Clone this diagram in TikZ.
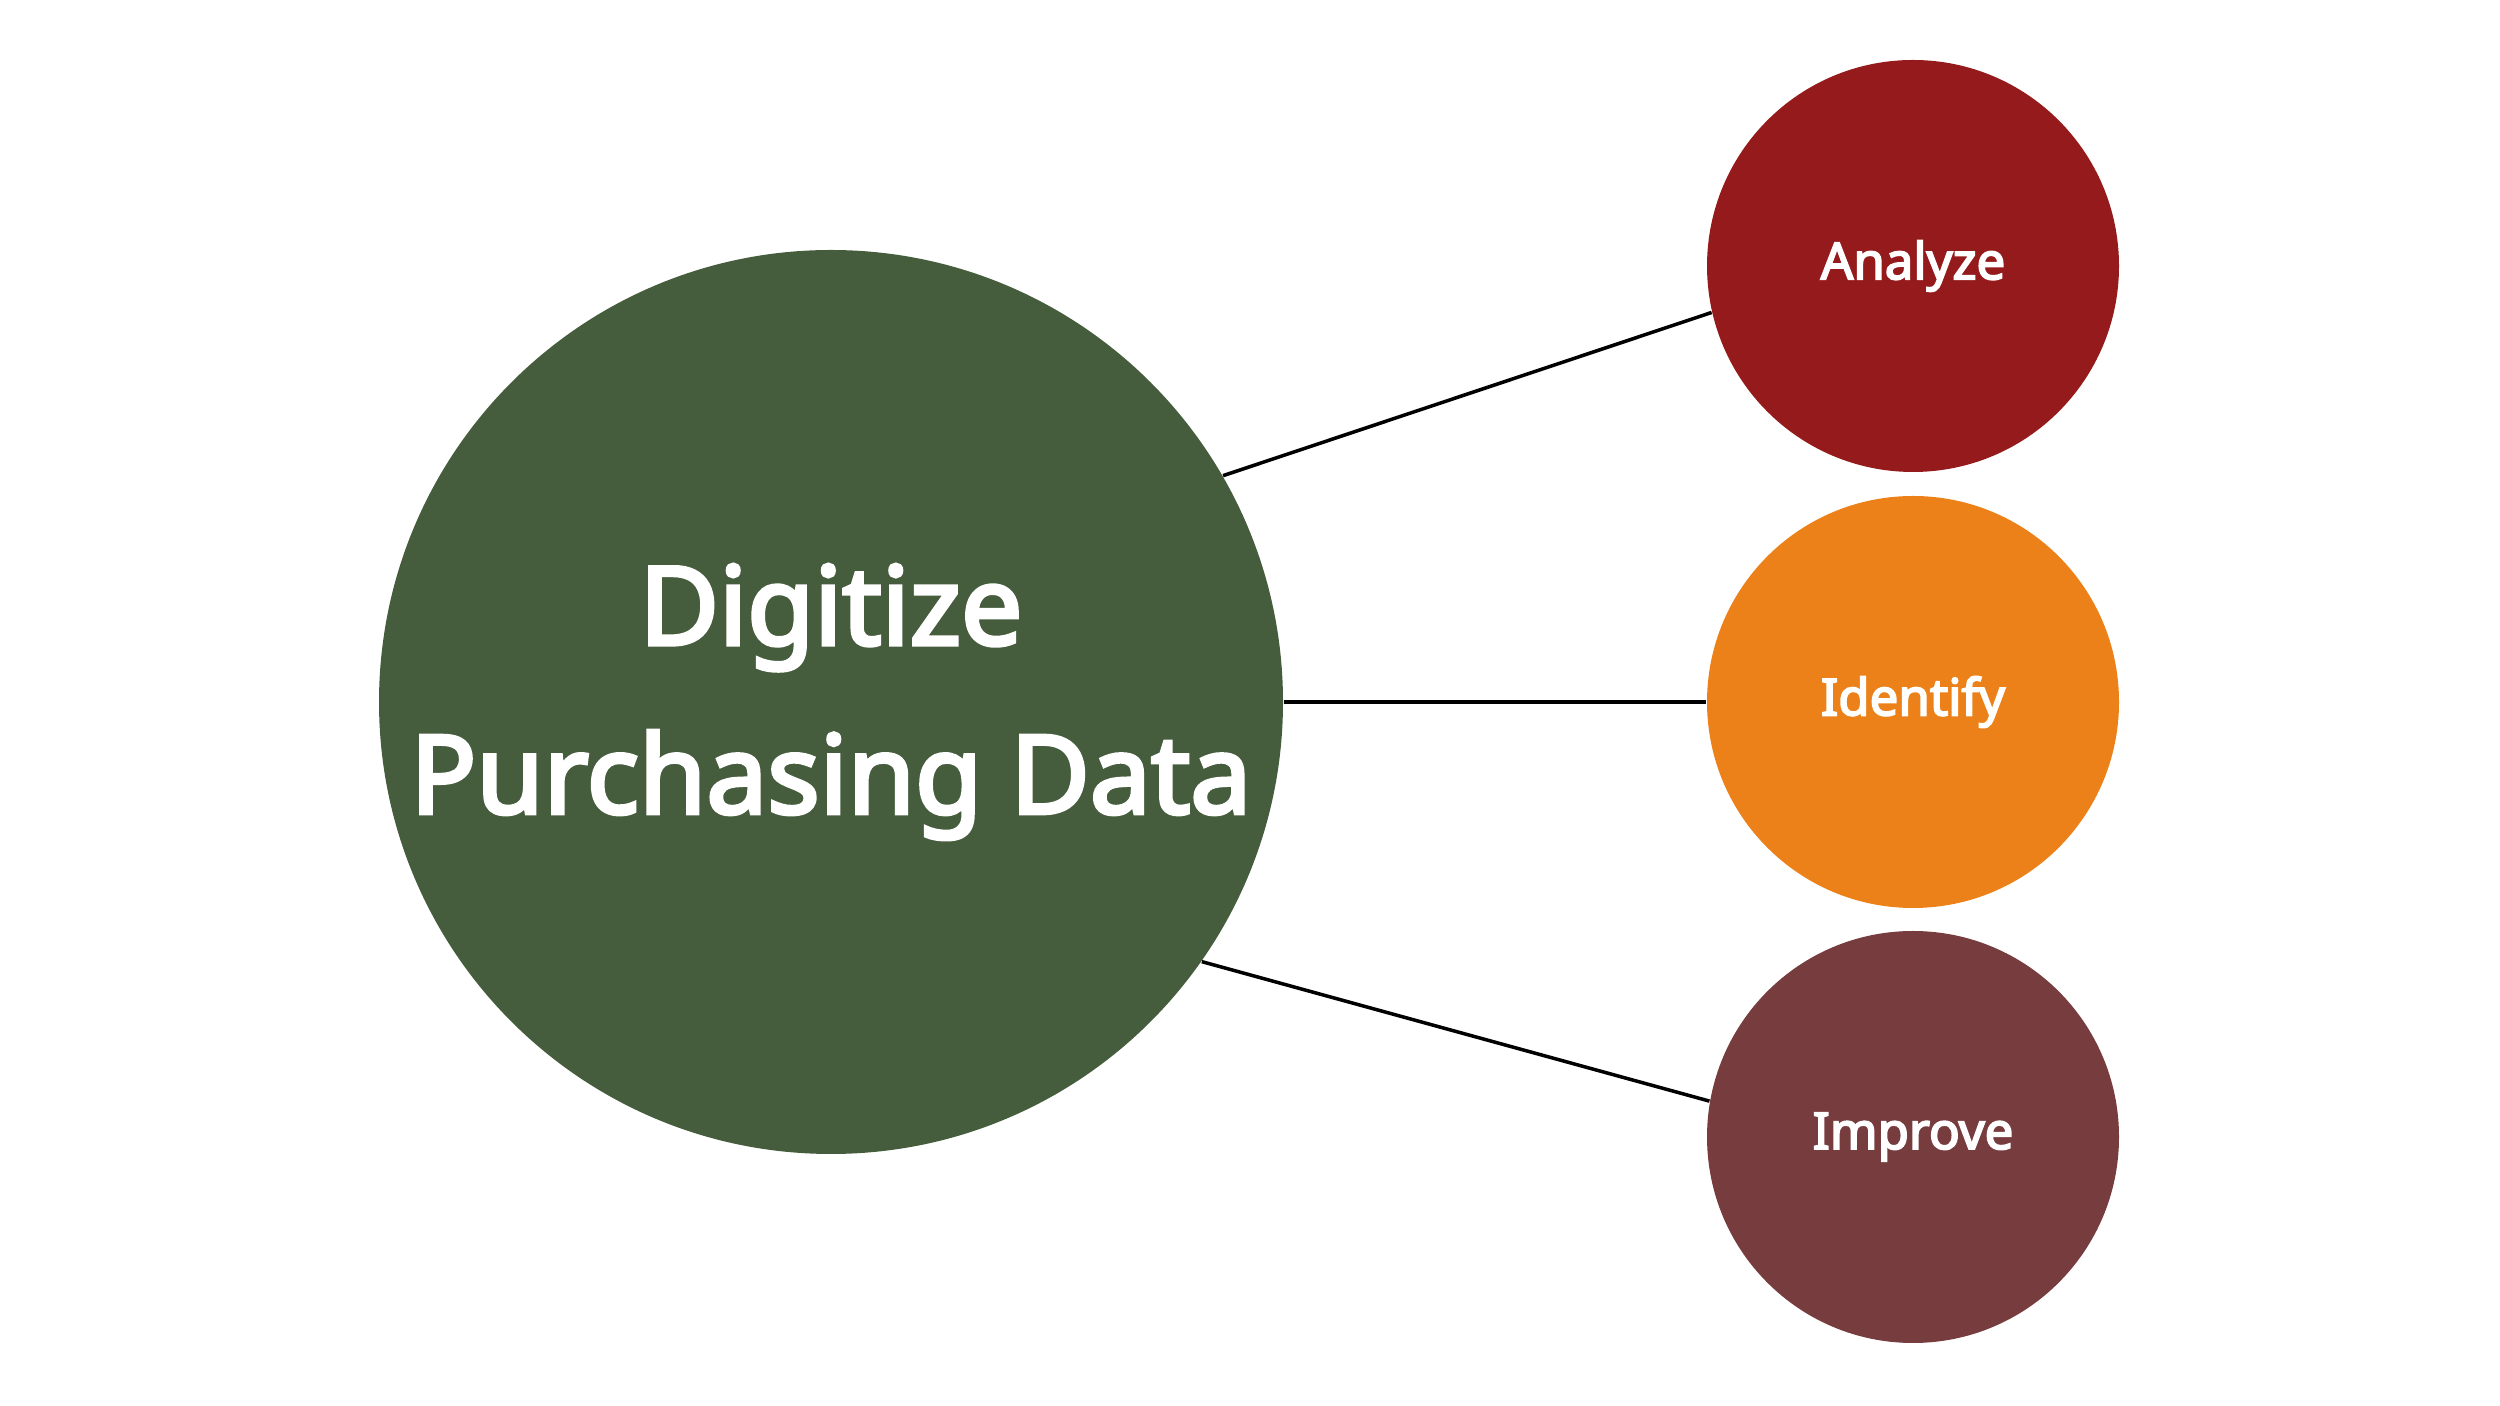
\documentclass[tikz,border=0pt]{standalone}
\usepackage{fontspec}
\setmainfont{Noto Sans}[BoldFont={Noto Sans},BoldFeatures={FakeBold=3.5}]
\usepackage{xcolor}
\usepackage{tikz}

\definecolor{digitgreen}{HTML}{465D3D}
\definecolor{analyzered}{HTML}{951A1B}
\definecolor{identorange}{HTML}{EC8119}
\definecolor{improvebrown}{HTML}{773C3E}

\begin{document}
\begin{tikzpicture}[
    bigcircle/.style={circle,inner sep=0pt,minimum size=9.04cm,text=white,align=center,
        font=\bfseries\fontsize{31}{48}\selectfont},
    smallcircle/.style={circle,inner sep=0pt,minimum size=4.12cm,text=white,
        font=\bfseries\fontsize{14.5}{17}\selectfont},
    link/.style={line width=1pt,black}]
    \useasboundingbox (0,0) rectangle (25,14.06);

    % Main topic
    \node[bigcircle,fill=digitgreen] (digitize) at (8.31,7.04) {Digitize\\Purchasing Data};

    % Outcomes
    \node[smallcircle,fill=analyzered] (analyze) at (19.13,11.40) {Analyze};
    \node[smallcircle,fill=identorange] (identify) at (19.13,7.04) {Identify};
    \node[smallcircle,fill=improvebrown] (improve) at (19.13,2.69) {Improve};

    % Links
    \draw[link] (digitize.30) -- (analyze.193.5);
    \draw[link] (digitize.east) -- (identify.west);
    \draw[link] (digitize.-35) -- (improve.170);
\end{tikzpicture}
\end{document}
